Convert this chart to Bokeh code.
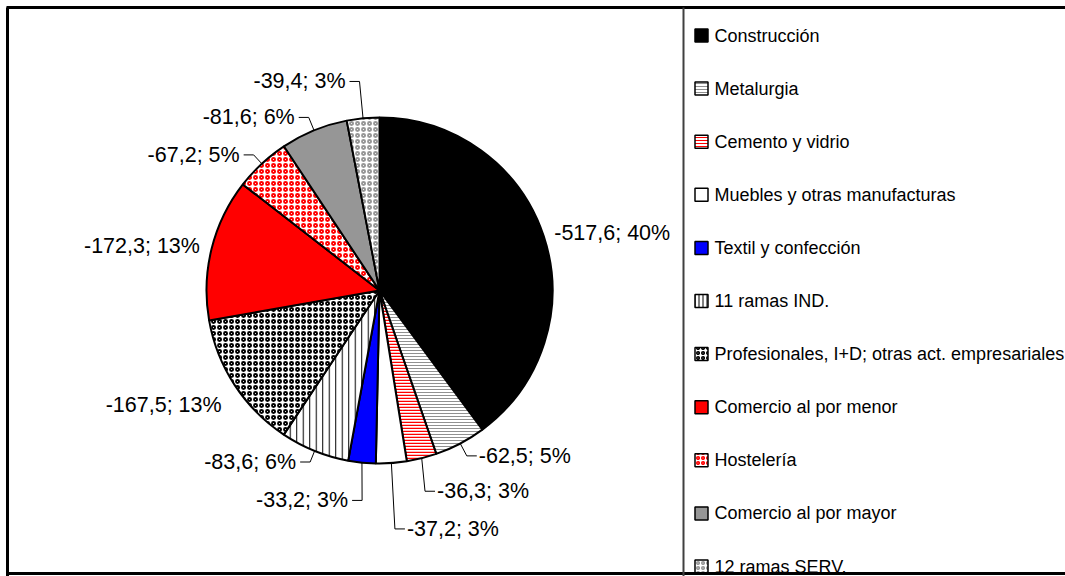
import numpy as np
from bokeh.plotting import figure
from bokeh.models import Range1d, ColumnDataSource
from bokeh.embed import file_html
from bokeh.resources import INLINE
from bokeh.core.properties import value

# ---- data ----
categories = ["Construcción", "Metalurgia", "Cemento y vidrio",
              "Muebles y otras manufacturas", "Textil y confección",
              "11 ramas IND.", "Profesionales, I+D; otras act. empresariales",
              "Comercio al por menor", "Hostelería", "Comercio al por mayor",
              "12 ramas SERV."]
values = [-517.6, -62.5, -36.3, -37.2, -33.2, -83.6, -167.5, -172.3, -67.2, -81.6, -39.4]

# ---- styles ----
fill_colors = ["#000000", "#FFFFFF", "#FFFFFF", "#FFFFFF", "#0000FF", "#FFFFFF",
               "#FFFFFF", "#FF0000", "#FFFFFF", "#969696", "#FFFFFF"]
hatch_patterns = [" ", "horizontal_line", "horizontal_line", " ", " ", "vertical_line",
                  "ring", " ", "ring", " ", "ring"]
hatch_colors = ["#000000", "#909090", "#FF0000", "#000000", "#000000", "#000000",
                "#000000", "#000000", "#FF0000", "#000000", "#969696"]
hatch_scales = [12, 3, 3, 12, 12, 6.5, 6, 12, 6, 12, 6]
hatch_weights = [1, 1, 1.5, 1, 1, 1, 1.9, 1, 1.9, 1, 1.9]
# label layout: radial distance of label elbow beyond rim, leader line flag, small nudges
label_dist = [11, 14, 34, 66, 38, 12, 18, 12, 12, 14, 37]
label_leader = [False, True, True, True, True, True, False, False, True, True, True]
label_nx = [0, 0, -5, -1, 4, 0, 2, 0, 0, 0, 0]
label_ny = [0, 0, 0, 0, 0, 0, -10, 0, 0, 0, 0]

W, H = 1065, 576
CX, CY, R = 379, 286, 173      # pie centre / radius in pixel units (y up)

p = figure(width=W, height=H, x_range=Range1d(0, W), y_range=Range1d(0, H),
           output_backend="svg", toolbar_location=None, min_border=0,
           x_axis_location=None, y_axis_location=None)
p.grid.visible = False
p.outline_line_color = None
p.background_fill_color = "white"

vals = np.abs(np.array(values))
total = vals.sum()
frac = vals / total
cum = np.concatenate([[0], np.cumsum(frac)])
start = np.pi / 2 - 2 * np.pi * cum[:-1]
end = np.pi / 2 - 2 * np.pi * cum[1:]
mid = (start + end) / 2

src = ColumnDataSource(dict(x=[CX] * len(vals), y=[CY] * len(vals), start=start, end=end,
                            fill=fill_colors, hatch=hatch_patterns, hcol=hatch_colors,
                            hscale=hatch_scales, hweight=hatch_weights))
p.wedge(x="x", y="y", radius=R, start_angle="start", end_angle="end", direction="clock",
        fill_color="fill", hatch_pattern="hatch", hatch_color="hcol",
        hatch_scale="hscale", hatch_weight="hweight",
        line_color="black", line_width=2, source=src)

# ---- data labels ----
labels = ["%s; %d%%" % (("%.1f" % v).replace(".", ","), round(f * 100)) for v, f in zip(values, frac)]
lx, ly, la, lines_x, lines_y = [], [], [], [], []
for i in range(len(vals)):
    ca, sa = np.cos(mid[i]), np.sin(mid[i])
    ex, ey = CX + R * ca, CY + R * sa
    rr = R + label_dist[i]
    bx, by = CX + rr * ca + label_nx[i], CY + rr * sa + label_ny[i]
    side = 1 if ca >= 0 else -1
    if label_leader[i]:
        hx = bx + side * 10
        lines_x.append([ex, bx, hx])
        lines_y.append([ey, by, by])
        tx = bx + side * (12 if side > 0 else 14)
    else:
        tx = bx
    lx.append(tx)
    ly.append(by)
    la.append("left" if side > 0 else "right")

p.multi_line(xs=lines_x, ys=lines_y, line_color="#000000", line_width=1)
p.text(x=lx, y=ly, text=labels, text_align=la, text_baseline="middle",
       text_font=value("Liberation Sans"), text_font_size="21.5px", text_color="black")

# ---- legend ----
LEG_X, LEG_TOP, LEG_STEP = 694, 541, 53.1
leg_y = [LEG_TOP - i * LEG_STEP for i in range(len(categories))]
p.rect(x=[LEG_X + 7] * len(categories), y=leg_y, width=13, height=13,
       fill_color=fill_colors, hatch_pattern=hatch_patterns, hatch_color=hatch_colors,
       hatch_scale=[min(s, 4) if h in ("horizontal_line", "vertical_line") else 5
                    for s, h in zip(hatch_scales, hatch_patterns)],
       hatch_weight=[1.6 if h == "ring" else 1 for h in hatch_patterns],
       line_color="black", line_width=1.5)
p.text(x=[LEG_X + 20] * len(categories), y=leg_y, text=categories, text_align="left",
       text_baseline="middle", text_font=value("Liberation Sans"),
       text_font_size="18px", text_color="black")

# ---- frame lines ----
p.line(x=[7, 7], y=[0, H - 7], line_color="black", line_width=3)
p.line(x=[6, W], y=[H - 7, H - 7], line_color="black", line_width=3)
p.line(x=[6, W], y=[3, 3], line_color="black", line_width=3)
p.line(x=[683, 683], y=[0, H - 7], line_color="#404040", line_width=2)

open("out.html", "w").write(file_html(p, INLINE))
